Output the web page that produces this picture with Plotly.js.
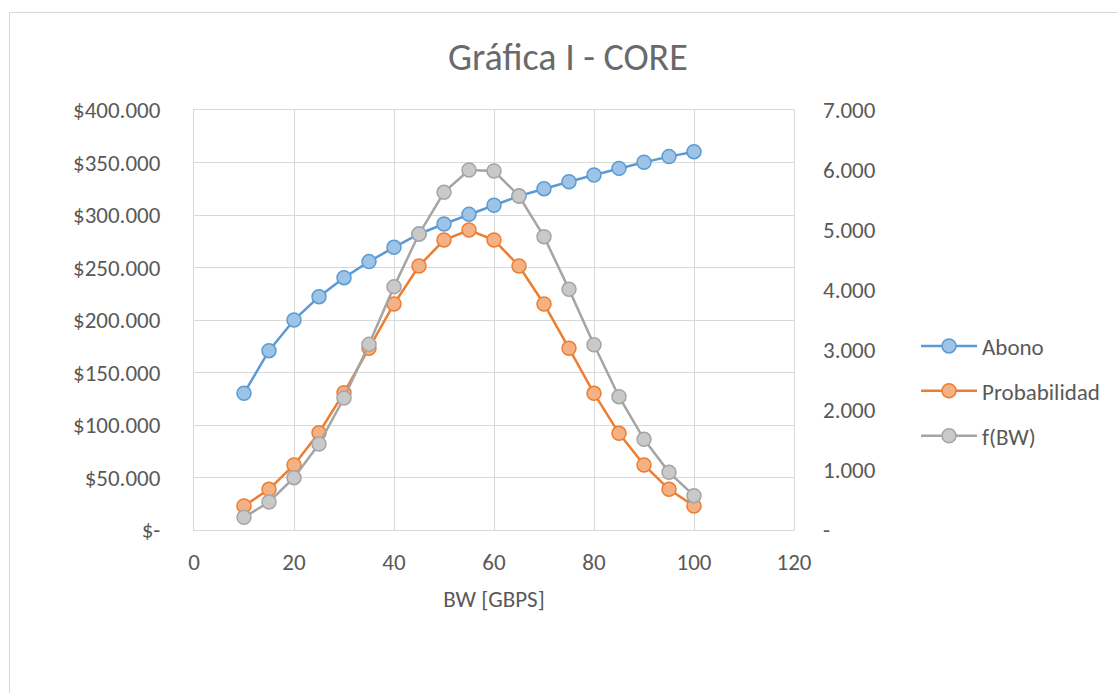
<!DOCTYPE html>
<html>
<head>
<meta charset="utf-8">
<script src="https://cdn.plot.ly/plotly-3.0.1.min.js"></script>
<style>
  html, body { margin: 0; padding: 0; background: #ffffff; }
  #frame { position: absolute; left: 9px; top: 12px; width: 1120px; height: 700px; border: 1px solid #d9d9d9; pointer-events: none; z-index: 5; }
  #chart { position: absolute; left: 0; top: 0; width: 1118px; height: 693px; }
</style>
</head>
<body>
<div id="chart"></div>
<div id="frame"></div>
<script>
const bw = [10, 15, 20, 25, 30, 35, 40, 45, 50, 55, 60, 65, 70, 75, 80, 85, 90, 95, 100];
const abono = [130200, 170800, 200000, 222200, 240300, 255600, 269200, 281900, 291400, 300600, 309300, 318100, 325100, 331700, 338100, 344400, 350200, 355600, 360300];
const probabilidad = [0.40, 0.678, 1.083, 1.622, 2.289, 3.028, 3.767, 4.40, 4.833, 5.0, 4.833, 4.40, 3.767, 3.028, 2.278, 1.611, 1.083, 0.678, 0.40];
const fbw = [0.211, 0.467, 0.872, 1.433, 2.2, 3.094, 4.056, 4.933, 5.628, 6.0, 5.983, 5.567, 4.889, 4.011, 3.088, 2.222, 1.511, 0.961, 0.572];

const leftTickVals = [0, 50000, 100000, 150000, 200000, 250000, 300000, 350000, 400000];
const leftTickText = ['$-', '$50.000', '$100.000', '$150.000', '$200.000', '$250.000', '$300.000', '$350.000', '$400.000'];
const rightTickVals = [0, 1, 2, 3, 4, 5, 6, 7];
const rightTickText = ['-', '1.000', '2.000', '3.000', '4.000', '5.000', '6.000', '7.000'];
const xTickVals = [0, 20, 40, 60, 80, 100, 120];

const FONT = 'Carlito, Lato, "Open Sans", sans-serif';
const GREY = '#595959';
const FS = 23;

function series(name, y, yaxis, line, fill, group) {
  return {
    type: 'scatter', mode: 'lines+markers', name: name, x: bw, y: y, yaxis: yaxis,
    legendgroup: group,
    line: { color: line, width: 2.5 },
    marker: { size: 14, color: fill, line: { color: line, width: 1.5 } }
  };
}

const data = [
  series('Abono', abono, 'y', '#5b9bd5', '#9dc3e6', 'a'),
  series('Probabilidad', probabilidad, 'y2', '#ed7d31', '#f4b183', 'b'),
  series('f(BW)', fbw, 'y2', '#a5a5a5', '#c9c9c9', 'c')
];

const layout = {
  width: 1118, height: 693,
  margin: { l: 194, r: 324, t: 110, b: 163 },
  paper_bgcolor: '#ffffff', plot_bgcolor: '#ffffff',
  font: { family: FONT, size: FS, color: GREY },
  title: {
    text: 'Gráfica I - CORE',
    font: { family: FONT, size: 38, color: '#6a6a6a' },
    x: 0.508, xref: 'container', xanchor: 'center',
    y: 1 - 57 / 693, yref: 'container', yanchor: 'middle'
  },
  xaxis: {
    range: [0, 120], tickvals: xTickVals, showgrid: true, gridcolor: '#d9d9d9', gridwidth: 1,
    zeroline: false, showline: true, linecolor: '#d9d9d9', linewidth: 1, mirror: true,
    ticks: '', ticklabelstandoff: 11,
    tickfont: { family: FONT, size: FS, color: GREY },
    title: { text: 'BW [GBPS]', font: { family: FONT, size: FS, color: GREY }, standoff: 16 }
  },
  yaxis: {
    range: [0, 400000], tickvals: leftTickVals, ticktext: leftTickText,
    showgrid: true, gridcolor: '#d9d9d9', gridwidth: 1, zeroline: false,
    showline: true, linecolor: '#d9d9d9', linewidth: 1, mirror: true,
    ticks: '', ticklabelstandoff: 28,
    tickfont: { family: FONT, size: FS, color: GREY }
  },
  yaxis2: {
    range: [0, 7], tickvals: rightTickVals, ticktext: rightTickText,
    overlaying: 'y', side: 'right', showgrid: false, zeroline: false, showline: false,
    ticks: '', ticklabelstandoff: 28,
    tickfont: { family: FONT, size: FS, color: GREY }
  },
  showlegend: true,
  legend: {
    xref: 'container', yref: 'container', x: 916 / 1118, y: 1 - 391 / 693,
    xanchor: 'left', yanchor: 'middle', traceorder: 'grouped', tracegroupgap: 12,
    itemwidth: 56,
    font: { family: FONT, size: FS, color: GREY }, bgcolor: 'rgba(0,0,0,0)'
  }
};

Plotly.newPlot('chart', data, layout, { displayModeBar: false, staticPlot: true });
</script>
</body>
</html>
